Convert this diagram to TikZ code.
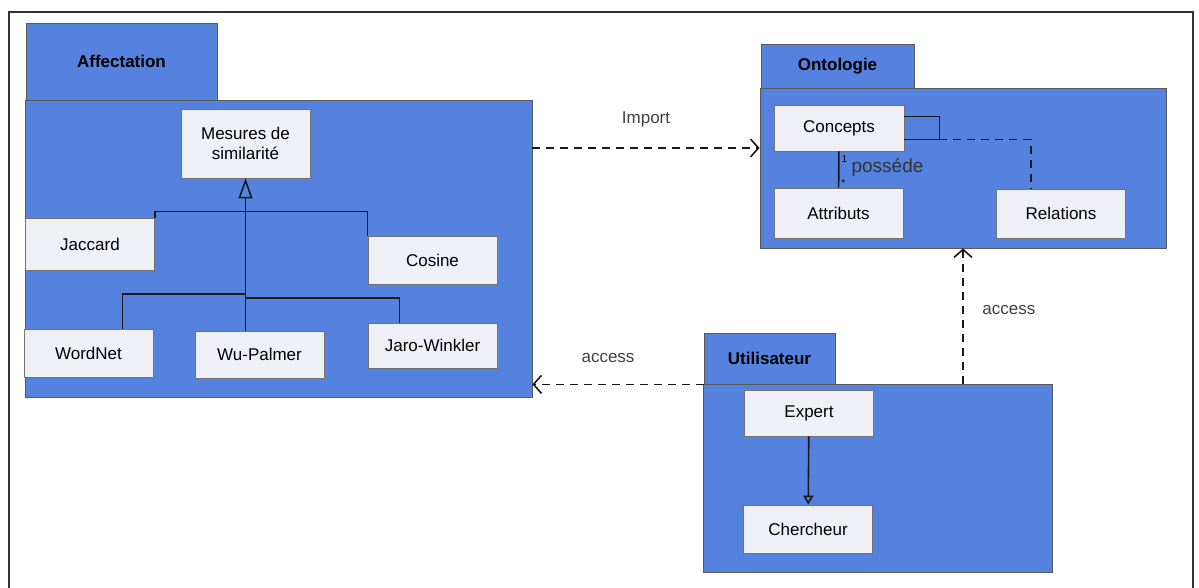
\documentclass[tikz,border=0pt]{standalone}
\usepackage{fontspec}
\setmainfont{Liberation Sans}
\usepackage{xcolor}
\usepackage{tikz}
\usetikzlibrary{arrows.meta, positioning, calc}

\definecolor{pkgblue}{RGB}{84,130,222}
\definecolor{clsfill}{RGB}{238,240,246}

\begin{document}
\begin{tikzpicture}[x=0.5pt, y=-0.5pt,
    font=\fontsize{8.5}{10}\selectfont,
    pkg/.style={draw=black!65, fill=pkgblue, inner sep=0pt},
    cls/.style={draw=black!55, fill=clsfill, align=center, inner sep=1pt,
                minimum width=64.5pt, minimum height=24pt},
    link/.style={draw=black!90, line width=0.8pt},
    gen/.style={link, -{Triangle[open, length=10pt, width=7pt]}},
    dep/.style={link, dash pattern=on 4pt off 3pt,
                -{Straight Barb[length=4pt, width=9pt]}}]
    \useasboundingbox (0,0) rectangle (1199,588);
    \draw[black!80, line width=0.7pt] (9,588) -- (9,12) -- (1193,12) -- (1193,588);
    % packages
    \node[pkg, minimum width=95.5pt, minimum height=38.5pt]  (afft) at (121.5,61.5) {\bfseries Affectation};
    \node[pkg, minimum width=253.5pt, minimum height=148.5pt] (affb) at (278.5,248.5) {};
    \node[pkg, minimum width=76.5pt, minimum height=22pt]    (ontt) at (837.5,66)   {\bfseries Ontologie};
    \node[pkg, minimum width=203pt, minimum height=80pt]     (ontb) at (963,168)    {};
    \node[pkg, minimum width=65.5pt, minimum height=25.5pt]  (utit) at (769.5,358.5) {\bfseries Utilisateur};
    \node[pkg, minimum width=174.5pt, minimum height=94pt]   (utib) at (877.5,478)  {};
    % classes
    \node[cls, minimum height=34.5pt] (mes) at (245.5,143.5) {Mesures de\\similarit\'e};
    \node[cls, minimum height=26pt]   (jac) at (90,244)      {Jaccard};
    \node[cls]                        (cos) at (432.5,260)   {Cosine};
    \node[cls]                        (wn)  at (88.5,353)    {WordNet};
    \node[cls, minimum height=23.5pt] (wu)  at (259.5,354.5) {Wu-Palmer};
    \node[cls, minimum height=22.5pt] (jw)  at (432.5,345.5) {Jaro-Winkler};
    \node[cls, minimum width=65pt, minimum height=23pt] (con) at (839,128) {Concepts};
    \node[cls, minimum height=25pt]   (att) at (838.5,213)   {Attributs};
    \node[cls, minimum height=24.5pt] (rel) at (1061,213.5)  {Relations};
    \node[cls, minimum height=23pt]   (exp) at (809,413)     {Expert};
    \node[cls]                        (che) at (808,529)     {Chercheur};
    % generalisation
    \coordinate (hubl) at (245.5,294);
    \coordinate (hubr) at (245.5,298);
    \draw[gen] (hubr) -- (mes.south);
    \draw[link] (jac.north east) -- ++(0,-6) -| (cos.north west);
    \draw[link] (wn.north east) ++(-31,0) |- (hubl);
    \draw[link] (wu.north -| hubl) -- (hubl);
    \draw[link] (jw.north west) ++(32,0) |- (hubr);
    \draw[link, -{Triangle[open, length=4.5pt, width=5pt]}] (exp) -- (che);
    % ontologie
    \draw[link] (con) -- (att)
        node[pos=0.22, right=0pt, font=\fontsize{5}{5}\selectfont, inner sep=1pt] (one) {1}
        node[pos=0.45, right=6pt, font=\fontsize{9.5}{11}\selectfont, inner sep=0pt, black!80] (pos) {poss\'ede}
        node[pos=0.88, right=0pt, font=\fontsize{5}{5}\selectfont, inner sep=1pt] (many) {*};
    \draw[link] ([yshift=5.7pt]con.east) -- ++(35,0) |- ([yshift=-5.7pt]con.east);
    \coordinate (loop) at ($([yshift=-5.7pt]con.east)+(35,0)$);
    \draw[link, dash pattern=on 4pt off 3pt] (loop) -| ([xshift=-15pt]rel.north);
    % dependencies
    \draw[dep] (affb.east |- 0,148) -- (ontb.west |- 0,148)
        node[midway, above=7pt, black!75] (imp) {Import};
    \draw[dep] (utit.south west) -- (affb.east |- utit.south west)
        node[midway, above=7pt, xshift=-5pt, black!75] (acc1) {access};
    \draw[dep] (utib.north -| ontb.south) -- (ontb.south)
        node[midway, right=6pt, yshift=3pt, black!75] (acc2) {access};
  \end{tikzpicture}
\end{document}
